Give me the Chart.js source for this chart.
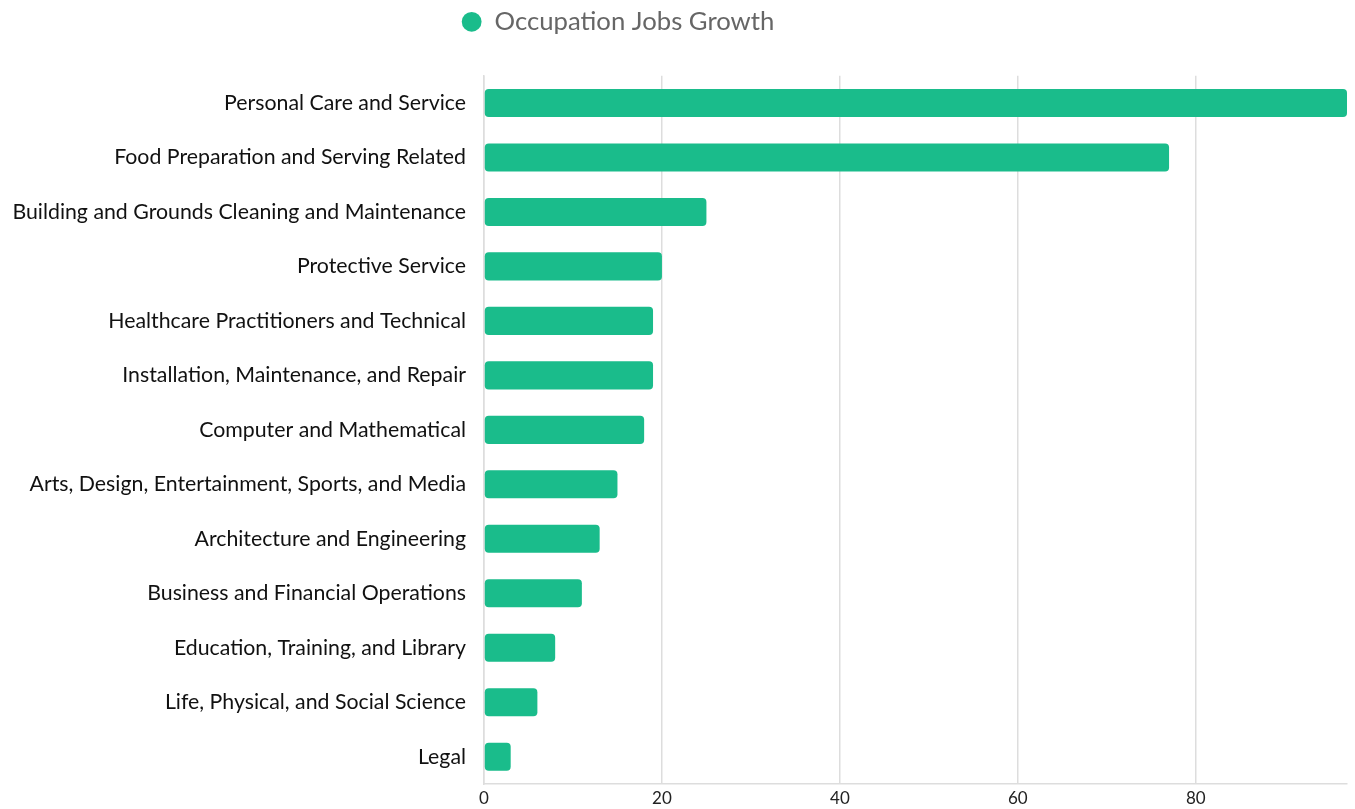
<!DOCTYPE html>
<html>
<head>
<meta charset="utf-8">
<script src="https://cdn.jsdelivr.net/npm/chart.js@4"></script>
<style>
  html, body { margin: 0; padding: 0; background: #fff; }
  #wrap { width: 1355px; height: 809px; }
</style>
</head>
<body>
<div id="wrap"><canvas id="chart"></canvas></div>
<script>
var occupations = [
  'Personal Care and Service',
  'Food Preparation and Serving Related',
  'Building and Grounds Cleaning and Maintenance',
  'Protective Service',
  'Healthcare Practitioners and Technical',
  'Installation, Maintenance, and Repair',
  'Computer and Mathematical',
  'Arts, Design, Entertainment, Sports, and Media',
  'Architecture and Engineering',
  'Business and Financial Operations',
  'Education, Training, and Library',
  'Life, Physical, and Social Science',
  'Legal'
];
var jobsGrowth = [97, 77, 25, 20, 19, 19, 18, 15, 13, 11, 8, 6, 3];
var xTicks = [0, 20, 40, 60, 80];
var seriesName = 'Occupation Jobs Growth';

Chart.defaults.font.family = 'Lato, "Noto Sans", sans-serif';

// legend: extra room below it, and nudged left like the original
var legendTweak = {
  id: 'legendTweak',
  afterInit: function(chart) {
    var lg = chart.legend;
    var fit = lg.fit;
    lg.fit = function() {
      fit.call(this);
      this.height += 31;
    };
  },
  beforeDraw: function(chart) {
    chart.legend.left = 0;
    chart.legend.right = 1236;
  }
};

var ctx = document.getElementById('chart').getContext('2d');
var chart = new Chart(ctx, {
  type: 'bar',
  data: {
    labels: occupations,
    datasets: [{
      label: seriesName,
      data: jobsGrowth,
      backgroundColor: '#1abc8b',
      borderRadius: 4,
      borderSkipped: false,
      barPercentage: 0.515,
      categoryPercentage: 1
    }]
  },
  plugins: [legendTweak],
  options: {
    indexAxis: 'y',
    responsive: true,
    maintainAspectRatio: false,
    animation: false,
    layout: { padding: { top: 0, right: 8, left: 11, bottom: 0 } },
    plugins: {
      legend: {
        labels: {
          usePointStyle: true,
          pointStyle: 'circle',
          boxWidth: 20,
          boxHeight: 14,
          color: '#666',
          font: { size: 25.7 },
          padding: 9
        }
      },
      tooltip: { enabled: false }
    },
    scales: {
      x: {
        min: 0,
        max: 97,
        afterBuildTicks: function(scale) {
          scale.ticks = xTicks.map(function(v) { return { value: v }; });
        },
        afterFit: function(scale) { scale.height = 25; },
        ticks: { color: '#222', font: { size: 17 }, padding: 4 },
        grid: { color: '#dddddd', lineWidth: 1.5, drawTicks: false },
        border: { color: '#dddddd', width: 1.5 }
      },
      y: {
        afterFit: function(scale) {
          scale.width = 473;
          scale.paddingTop = 0;
          scale.paddingBottom = 0;
        },
        ticks: { color: '#111', font: { size: 21.3 }, padding: 18 },
        grid: { display: false, drawTicks: false },
        border: { color: '#dddddd', width: 1.5 }
      }
    }
  }
});
</script>
</body>
</html>
